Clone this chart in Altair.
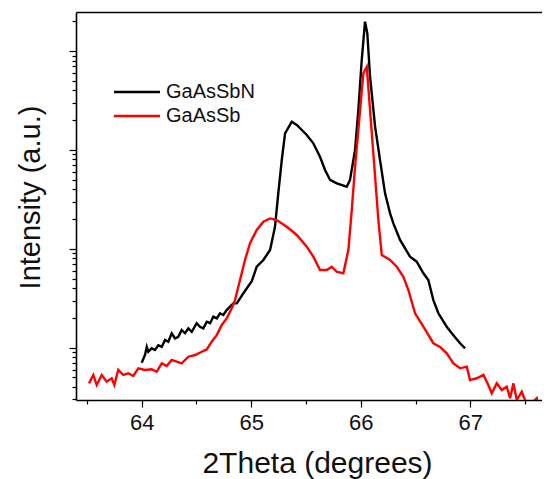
import altair as alt
import pandas as pd

# ---- data ----
theta_gaassbn = [64.000, 64.030, 64.046, 64.060, 64.091, 64.121, 64.152, 64.183, 64.213, 64.243,
                 64.274, 64.304, 64.334, 64.365, 64.395, 64.426, 64.457, 64.502, 64.532, 64.563,
                 64.594, 64.624, 64.654, 64.685, 64.715, 64.745, 64.776, 64.806, 64.837, 64.868,
                 64.898, 64.928, 65.005, 65.050,
                 65.111, 65.172, 65.217, 65.247, 65.279, 65.309, 65.370, 65.416, 65.507, 65.567,
                 65.628, 65.674, 65.720, 65.781, 65.872, 65.902, 65.948, 65.978, 66.009, 66.039,
                 66.060, 66.085, 66.131, 66.176, 66.222, 66.268, 66.298, 66.359, 66.450, 66.511,
                 66.572, 66.617, 66.663, 66.709, 66.785, 66.846, 66.907, 66.953]
int_gaassbn = [7.05, 8.44, 10.2, 9.11, 9.86, 9.48, 10.6, 10.2, 12.0, 11.5,
               14.0, 12.4, 12.9, 15.1, 14.0, 15.7, 14.5, 17.7, 16.3, 15.7,
               18.3, 17.7, 20.6, 19.8, 22.3, 21.4, 24.0, 26.0, 28.1, 28.1,
               31.6, 35.5, 47.0, 65.9,
               77.1, 97.3, 167, 364, 791, 1472, 1928, 1786, 1416, 1167,
               853, 627, 497, 459, 425, 497, 998, 2529, 8110, 19780,
               15100, 5495, 1718, 791, 364, 228, 181, 123, 83.2, 74.1,
               56.5, 48.4, 30.3, 22.3, 16.3, 13.4, 11.1, 9.86]

theta_gaassb = [63.519, 63.558, 63.589, 63.635, 63.680, 63.726, 63.750, 63.786, 63.832, 63.878,
                63.923, 63.969, 64.030, 64.091, 64.137, 64.183, 64.228, 64.274, 64.320, 64.365,
                64.426, 64.487, 64.548, 64.594, 64.639, 64.685, 64.731, 64.776, 64.822, 64.852,
                64.882, 64.913, 64.943, 64.989, 65.050, 65.111, 65.172, 65.233, 65.324, 65.416,
                65.507, 65.567, 65.628, 65.689, 65.735, 65.781, 65.841, 65.887, 65.918, 65.948,
                65.994, 66.024, 66.055, 66.085, 66.131, 66.161, 66.192, 66.268, 66.329, 66.389,
                66.435, 66.496, 66.572, 66.663, 66.724, 66.785, 66.846, 66.907, 66.968, 66.998,
                67.059, 67.120, 67.165, 67.196, 67.242, 67.288, 67.333, 67.363, 67.394, 67.425,
                67.470, 67.500, 67.520, 67.607, 67.620]
int_gaassb = [4.36, 5.30, 4.20, 5.30, 4.53, 4.91, 4.20, 5.96, 5.30, 5.51,
              5.18, 6.19, 5.96, 6.06, 5.71, 6.95, 6.53, 7.51, 7.22, 6.95,
              8.11, 8.44, 9.11, 9.6, 11.5, 13.4, 17.0, 19.8, 25.0, 30.3,
              41.4, 56.5, 77.1, 114, 155, 188, 203, 195, 167, 138,
              105, 83.2, 61.1, 61.1, 65.9, 58.6, 56.5, 97.3, 247, 676,
              2529, 5957, 6935, 2529, 536, 195, 86.5, 77.1, 65.9, 52.2,
              38.3, 22.3, 16.3, 11.1, 10.2, 8.78, 6.95, 6.19, 6.43, 4.71,
              4.91, 5.30, 4.20, 3.46, 4.36, 3.73, 4.04, 3.08, 4.36, 2.96,
              3.59, 2.96, 2.5, 3.08, 2.5]

samples = ["GaAsSbN", "GaAsSb"]
colors = ["#000000", "#ff0000"]

x_ticks = [63.5, 64, 64.5, 65, 65.5, 66, 66.5, 67, 67.5]
y_ticks = [3, 4, 5, 6, 7, 8, 9,
           10, 20, 30, 40, 50, 60, 70, 80, 90,
           100, 200, 300, 400, 500, 600, 700, 800, 900,
           1000, 2000, 3000, 4000, 5000, 6000, 7000, 8000, 9000,
           10000, 20000]

df_n = pd.DataFrame({"theta": theta_gaassbn, "intensity": int_gaassbn, "sample": samples[0]})
df_s = pd.DataFrame({"theta": theta_gaassb, "intensity": int_gaassb, "sample": samples[1]})

FONT = "Liberation Sans"

x_scale = alt.Scale(domain=[63.40, 67.655], nice=False, zero=False)
y_scale = alt.Scale(type="log", domain=[2.96, 24800], nice=False)

x_axis = alt.Axis(
    values=x_ticks,
    labelExpr="abs(datum.value - round(datum.value)) < 0.01 ? format(datum.value, 'd') : ''",
    title="2Theta (degrees)",
    titleFont=FONT, titleFontSize=30, titleFontWeight="normal", titleColor="#111111",
    titleBaseline="alphabetic", titleY=72, titleX=241,
    labelFont=FONT, labelFontSize=22, labelColor="#111111",
    labelBaseline="alphabetic", labelPadding=22, labelOverlap=False, labelFlush=False,
    tickSize={"condition": {"test": "abs(datum.value - round(datum.value)) < 0.01", "value": 7}, "value": 4},
    tickColor="#000000", tickWidth=1.2,
    domainColor="#000000", domainWidth=1.6, grid=False,
)

y_axis = alt.Axis(
    values=y_ticks, labels=False,
    title="Intensity (a.u.)",
    titleFont=FONT, titleFontSize=29, titleFontWeight="normal", titleColor="#111111",
    titleAngle=-90, titleAlign="center", titleBaseline="middle",
    titleX=-46, titleY=185,
    tickSize={"condition": {"test": "abs(log(datum.value)/LN10 - round(log(datum.value)/LN10)) < 0.001", "value": 7}, "value": 4},
    tickColor="#000000", tickWidth=1.2,
    domainColor="#000000", domainWidth=1.6, grid=False,
)

color = alt.Color(
    "sample:N",
    scale=alt.Scale(domain=samples, range=colors),
    legend=alt.Legend(
        title=None, orient="none", legendX=51, legendY=70,
        symbolType="M-4,0H4", symbolSize=132, symbolStrokeWidth=2.7,
        symbolFillColor="transparent",
        labelFont=FONT, labelFontSize=20, labelColor="#111111",
        labelOffset=19, rowPadding=4,
    ),
)

line_n = alt.Chart(df_n).mark_line(strokeWidth=2.4, clip=True).encode(
    x=alt.X("theta:Q", scale=x_scale, axis=x_axis),
    y=alt.Y("intensity:Q", scale=y_scale, axis=y_axis),
    color=color,
)
line_s = alt.Chart(df_s).mark_line(strokeWidth=2.4, clip=True).encode(
    x=alt.X("theta:Q", scale=x_scale, axis=None),
    y=alt.Y("intensity:Q", scale=y_scale, axis=y_axis),
    color=color,
)
top_frame = alt.Chart(df_n).mark_line(opacity=0).encode(
    x=alt.X("theta:Q", scale=x_scale,
            axis=alt.Axis(orient="top", labels=False, ticks=False, title=None,
                          domainColor="#000000", domainWidth=1.6, grid=False)),
    y=alt.Y("intensity:Q", scale=y_scale, axis=y_axis),
)

chart = alt.layer(line_n, line_s, top_frame).resolve_axis(x="independent").properties(
    width=466, height=388,
    autosize=alt.AutoSizeParams(type="none"),
    padding={"left": 68, "top": 4, "right": 0, "bottom": 79},
    background="#ffffff",
).configure_view(stroke=None)

chart.save("out.html", embed_options={"renderer": "svg", "actions": False})
